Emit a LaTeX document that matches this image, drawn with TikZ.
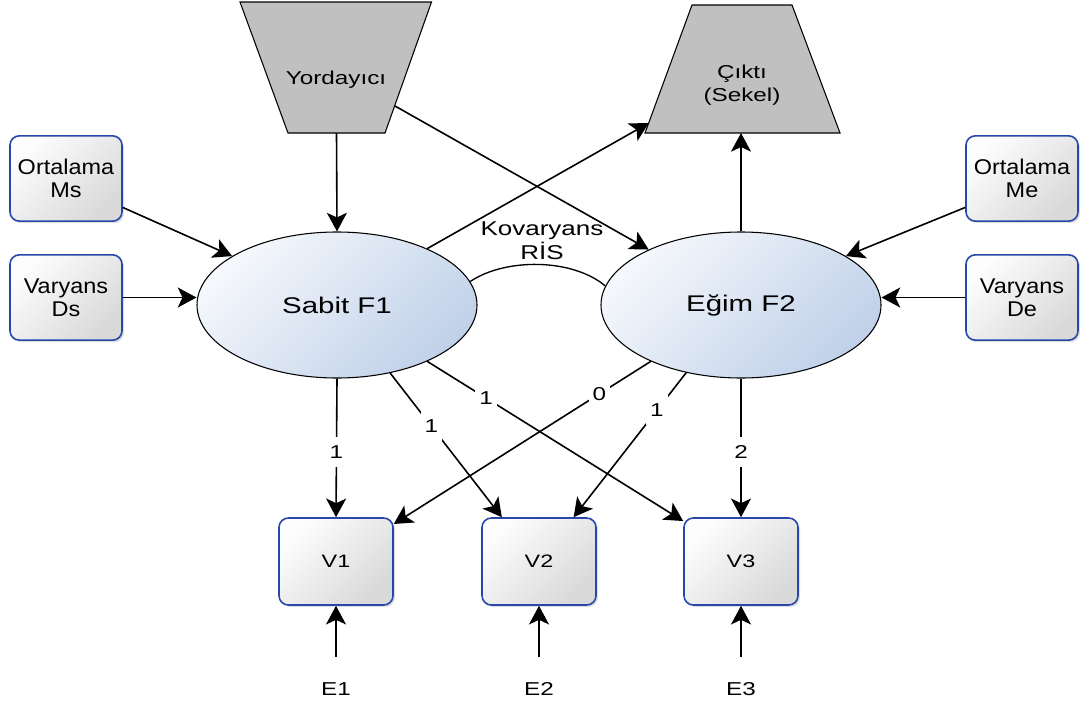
\documentclass[tikz,border=0pt]{standalone}
\usepackage{fontspec}
\setmainfont{Liberation Sans}
\newfontfamily\wideA[FakeStretch=1.1]{Liberation Sans}
\newfontfamily\wideB[FakeStretch=1.3]{Liberation Sans}
\usetikzlibrary{arrows.meta,shapes.geometric,shadows,calc}

\definecolor{boxblue}{HTML}{2748A8}
\definecolor{boxtop}{HTML}{FDFDFD}
\definecolor{boxbot}{HTML}{D9D9D9}
\definecolor{elltop}{HTML}{F5F8FC}
\definecolor{ellbot}{HTML}{C0D1E9}
\definecolor{trapgray}{HTML}{C0C0C0}

\begin{document}
\begin{tikzpicture}[x=0.75pt,y=0.75pt,
  arr/.style={line width=1.2pt,-{Stealth[length=14pt,width=15pt,inset=3.5pt]}},
  plain/.style={line width=1pt},
  sidebox/.style={draw=boxblue,line width=1.2pt,rounded corners=7pt,
    minimum width=84pt,minimum height=64pt,inner sep=0pt,
    top color=boxtop,bottom color=boxbot,shading angle=45,
    drop shadow={shadow xshift=1.5pt,shadow yshift=-1.5pt,opacity=0.25},
    align=center,font=\wideA\fontsize{16}{17.25}\selectfont},
  obsbox/.style={draw=boxblue,line width=1.2pt,rounded corners=7pt,
    minimum width=85.5pt,minimum height=65.25pt,inner sep=0pt,
    top color=boxtop,bottom color=boxbot,shading angle=45,
    drop shadow={shadow xshift=1.5pt,shadow yshift=-1.5pt,opacity=0.25},
    font=\wideB\fontsize{13.5}{16}\selectfont},
  latent/.style={ellipse,draw=black,line width=0.8pt,
    minimum width=210pt,minimum height=109.5pt,inner sep=0pt,
    top color=elltop,bottom color=ellbot,shading angle=45,
    font=\wideB\fontsize{17}{20}\selectfont},
  trapbox/.style={draw=black,line width=0.8pt,fill=trapgray},
  lbl/.style={fill=white,inner xsep=3pt,inner ysep=6.5pt,
    font=\wideB\fontsize{14}{16}\selectfont},
  errlbl/.style={font=\wideB\fontsize{14}{16}\selectfont}
]
\useasboundingbox (0,0) rectangle (1081,-700);

% predictor (inverted trapezoid) and outcome (trapezoid)
\draw[trapbox] (240,-2) -- (431.5,-2) -- (385,-133) -- (288,-133) -- cycle;
\coordinate (Ybot) at (336.5,-133);
\coordinate (Yside) at (395,-106);
\node[font=\wideB\fontsize{14}{17}\selectfont] (Ytxt) at (336,-80) {Yordayıcı};

\draw[trapbox] (692,-5) -- (792,-5) -- (840,-133) -- (645,-133) -- cycle;
\coordinate (Cbot) at (741,-133);
\coordinate (Cside) at (648.8,-123);
\node[align=center,font=\wideB\fontsize{14}{17.25}\selectfont] (Ctxt) at (742,-85)
  {Çıktı\\(Sekel)};

% mean and variance boxes
\node[sidebox] (Ms) at (66,-178.5) {Ortalama\\Ms};
\node[sidebox] (Ds) at (66,-297.5) {Varyans\\Ds};
\node[sidebox] (Me) at (1022,-178.5) {Ortalama\\Me};
\node[sidebox] (De) at (1022,-297.5) {Varyans\\De};

% latent factors
\node[latent] (F1) at (337,-305) {Sabit F1};
\node[latent] (F2) at (741,-305) {Eğim F2};

% observed variables
\node[obsbox] (V1) at (336,-561.5) {V1};
\node[obsbox] (V2) at (539,-561.5) {V2};
\node[obsbox] (V3) at (741,-561.5) {V3};

% error terms
\node[errlbl] (E1) at (336,-689) {E1};
\node[errlbl] (E2) at (539,-689) {E2};
\node[errlbl] (E3) at (741,-689) {E3};
\coordinate (e1) at (336,-657);
\coordinate (e2) at (539,-657);
\coordinate (e3) at (741,-657);

% covariance label and arc
\node[align=center,font=\wideB\fontsize{15}{18}\selectfont] (cov) at (542,-241)
  {Kovaryans\\RİS};
\draw[plain] (F1.10) .. controls (505,-258) and (572,-258) .. (F2.172);

% structural paths
\draw[arr] (Ybot) -- (F1.north);
\draw[arr] (Yside) -- (F2.149);
\draw[arr] (F1.32) -- (Cside);
\draw[arr] (F2.north) -- (Cbot);
\draw[arr] (Ms.-27) -- (F1.155);
\draw[arr] (Ds.east) -- (Ds.east -| F1.west);
\draw[arr] (Me.207) -- (F2.25);
\draw[arr] (De.west) -- (De.west -| F2.east);

% loadings
\draw[arr] (F1.south) -- node[lbl,pos=0.53] (l11) {1} (V1.north);
\draw[arr] (F1.-52) -- node[lbl,pos=0.37] (l12) {1} (V2.130);
\draw[arr] (F1.-32.5) -- node[lbl,pos=0.23] (l13) {1} (V3.145.5);
\draw[arr] (F2.212) -- node[lbl,pos=0.2] (l21) {0} (V1.33);
\draw[arr] (F2.231) -- node[lbl,pos=0.26] (l22) {1} (V2.52);
\draw[arr] (F2.south) -- node[lbl,pos=0.53] (l23) {2} (V3.north);

% residuals
\draw[arr] (e1) -- (V1.south);
\draw[arr] (e2) -- (V2.south);
\draw[arr] (e3) -- (V3.south);
\end{tikzpicture}
\end{document}
